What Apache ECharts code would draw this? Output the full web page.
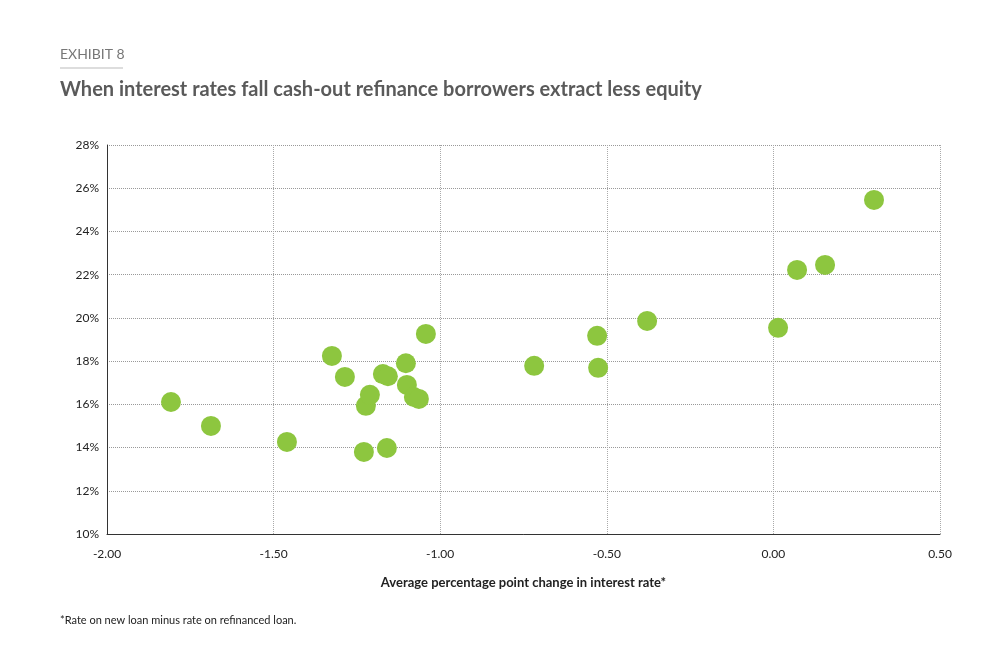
<!DOCTYPE html><html><head><meta charset="utf-8"><script src="https://cdn.jsdelivr.net/npm/echarts@6/dist/echarts.min.js"></script>
<style>body{margin:0}#c{width:1000px;height:672px}</style></head><body><div id="c"></div><script>
const rateChange=[-1.808,-1.688,-1.46,-1.325,-1.286,-1.229,-1.223,-1.211,-1.172,-1.157,-1.16,-1.103,-1.1,-1.079,-1.064,-1.043,-0.718,-0.529,-0.526,-0.379,0.014,0.071,0.155,0.302];
const equityPct=[16.11,15.0,14.26,18.24,17.27,13.8,15.93,16.44,17.4,17.3,13.98,17.9,16.9,16.34,16.25,19.26,17.78,19.17,17.69,19.86,19.54,22.22,22.45,25.46];
const font='Lato, "Open Sans", sans-serif';
const ch=echarts.init(document.getElementById('c'));
ch.setOption({
 animation:false,
 graphic:[
  {type:'text',left:60,top:47,style:{text:'EXHIBIT 8',font:'14px '+font,fill:'#777',letterSpacing:1}},
  {type:'line',shape:{x1:60,y1:68,x2:123,y2:68},style:{stroke:'#bbb',lineWidth:1}},
  {type:'text',left:60,top:80,style:{text:'When interest rates fall cash-out refinance borrowers extract less equity',font:'bold 20px '+font,fill:'#5a5a5a'}},
  {type:'text',left:60,top:615,style:{text:'*Rate on new loan minus rate on refinanced loan.',font:'11px '+font,fill:'#222'}}
 ],
 grid:{left:107,right:60,top:145,bottom:138},
 xAxis:{type:'value',min:-2,max:0.5,interval:0.5,name:'Average percentage point change in interest rate*',nameLocation:'middle',nameGap:42,
  nameTextStyle:{fontFamily:font,fontSize:13,fontWeight:'bold',color:'#222'},
  axisLine:{onZero:false,lineStyle:{color:'#333'}},axisTick:{show:false},
  axisLabel:{fontFamily:font,fontSize:12,color:'#222',margin:14,formatter:v=>v.toFixed(2)},
  splitLine:{show:true,lineStyle:{type:'dotted',color:'#aaa'}}},
 yAxis:{type:'value',min:10,max:28,interval:2,
  axisLine:{show:true,onZero:false,lineStyle:{color:'#333'}},axisTick:{show:false},
  axisLabel:{fontFamily:font,fontSize:12,color:'#222',formatter:'{value}%'},
  splitLine:{lineStyle:{type:'dotted',color:'#999'}}},
 series:[{type:'scatter',symbolSize:20,itemStyle:{color:'#8dc63f',opacity:1},data:rateChange.map((x,i)=>[x,equityPct[i]])}]
});
</script></body></html>
